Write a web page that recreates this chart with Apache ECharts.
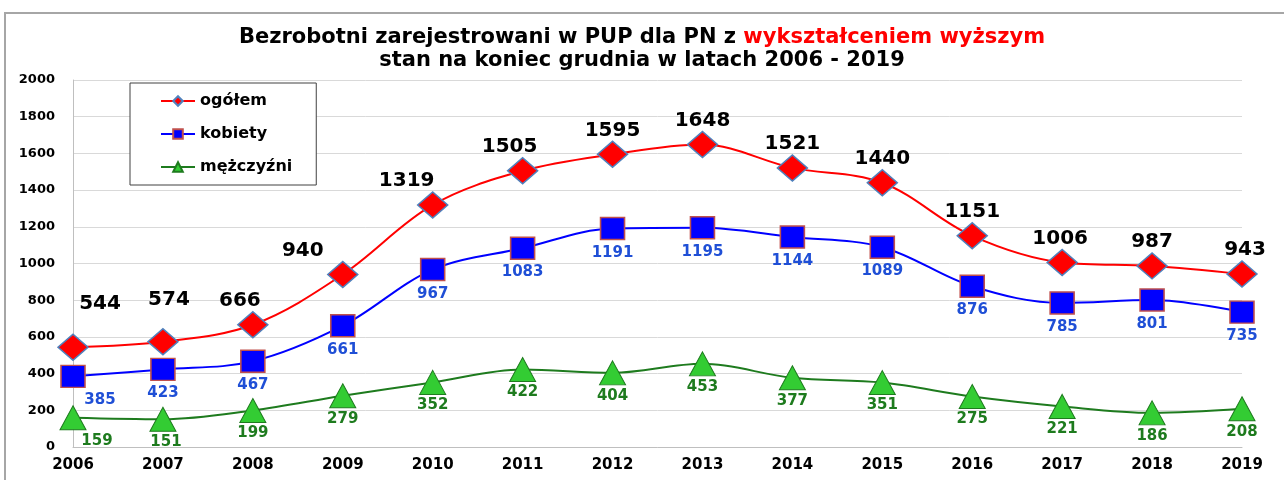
<!DOCTYPE html>
<html><head><meta charset="utf-8">
<script src="https://cdn.jsdelivr.net/npm/echarts@6/dist/echarts.min.js"></script>
<style>html,body{margin:0;padding:0;background:#fff}#c{width:1284px;height:480px}</style>
</head><body><div id="c"></div>
<script>
const years = ['2006','2007','2008','2009','2010','2011','2012','2013','2014','2015','2016','2017','2018','2019'];
const ogolem = [544,574,666,940,1319,1505,1595,1648,1521,1440,1151,1006,987,943];
const kobiety = [385,423,467,661,967,1083,1191,1195,1144,1089,876,785,801,735];
const mezczyzni = [159,151,199,279,352,422,404,453,377,351,275,221,186,208];
const seriesNames = ['ogółem','kobiety','mężczyźni'];
const yTicks = {min:0, max:2000, interval:200};

const F = 'DejaVu Sans, Verdana, sans-serif';
function withOffsets(vals, offs){
  return vals.map((v,i)=> offs[i] ? {value:v, label:{offset:offs[i]}} : v);
}
const redOffs = {0:[27,-20],1:[6,-18],2:[-13,0],3:[-40,0],4:[-26,0],5:[-13,0],11:[-2,0],13:[3,0]};
const blueOffs = {0:[27,0]};
const greenOffs = {0:[24,0],1:[3,0]};

const chart = echarts.init(document.getElementById('c'));
chart.setOption({
  animation:false,
  backgroundColor:'#fff',
  graphic:[{type:'rect',shape:{x:5,y:13,width:1300,height:500},style:{fill:'none',stroke:'#a6a6a6',lineWidth:2},z:-1}],
  title:{
    left:'center', top:21,
    text:'{a|Bezrobotni zarejestrowani w PUP dla PN z }{r|wykształceniem wyższym}\n{a|stan na koniec grudnia w latach 2006 - 2019}',
    textStyle:{
      rich:{
        a:{fontFamily:F,fontWeight:'bold',fontSize:21,color:'#000',lineHeight:23},
        r:{fontFamily:F,fontWeight:'bold',fontSize:21,color:'#ff0000',lineHeight:23}
      }
    }
  },
  legend:{
    orient:'vertical', left:130, top:83,
    data:seriesNames,
    backgroundColor:'#fff',
    borderColor:'#404040', borderWidth:1, borderRadius:0,
    padding:[8,24,8,30],
    itemWidth:34, itemHeight:12, itemGap:13,
    textStyle:{fontFamily:F,fontWeight:'bold',fontSize:16,color:'#000',lineHeight:20}
  },
  grid:{left:73,right:42,top:80,bottom:33,containLabel:false},
  xAxis:{
    type:'category', data:years, boundaryGap:false,
    axisTick:{show:false},
    axisLine:{lineStyle:{color:'#bfbfbf',width:1}},
    axisLabel:{fontFamily:F,fontWeight:'bold',fontSize:15,color:'#000',margin:11}
  },
  yAxis:{
    type:'value', min:yTicks.min, max:yTicks.max, interval:yTicks.interval,
    axisLine:{show:true,lineStyle:{color:'#bfbfbf'}},
    axisTick:{show:false},
    splitLine:{lineStyle:{color:'#d9d9d9'}},
    axisLabel:{fontFamily:F,fontWeight:'bold',fontSize:13,color:'#000',margin:18,formatter:v=>String(v)}
  },
  series:[
    {
      name:seriesNames[2], type:'line', smooth:0.35, z:2,
      data:withOffsets(mezczyzni, greenOffs),
      lineStyle:{color:'#1e7b1e',width:2},
      itemStyle:{color:'#33cc33',borderColor:'#1e7b1e',borderWidth:1},
      symbol:'triangle', symbolSize:[26,24],
      label:{show:true,position:'bottom',distance:3,fontFamily:F,fontWeight:'bold',fontSize:15,color:'#1e7b1e'}
    },
    {
      name:seriesNames[1], type:'line', smooth:0.35, z:3,
      data:withOffsets(kobiety, blueOffs),
      lineStyle:{color:'#0000ff',width:2},
      itemStyle:{color:'#0000ff',borderColor:'#c0504d',borderWidth:1.5},
      symbol:'rect', symbolSize:[24,22],
      label:{show:true,position:'bottom',distance:5,fontFamily:F,fontWeight:'bold',fontSize:15,color:'#1f4fd6'}
    },
    {
      name:seriesNames[0], type:'line', smooth:0.35, z:4,
      data:withOffsets(ogolem, redOffs),
      lineStyle:{color:'#ff0000',width:2},
      itemStyle:{color:'#ff0000',borderColor:'#4f81bd',borderWidth:1.5},
      symbol:'diamond', symbolSize:[30,26],
      label:{show:true,position:'top',distance:0,fontFamily:F,fontWeight:'bold',fontSize:20,color:'#000'}
    }
  ]
});
</script></body></html>
